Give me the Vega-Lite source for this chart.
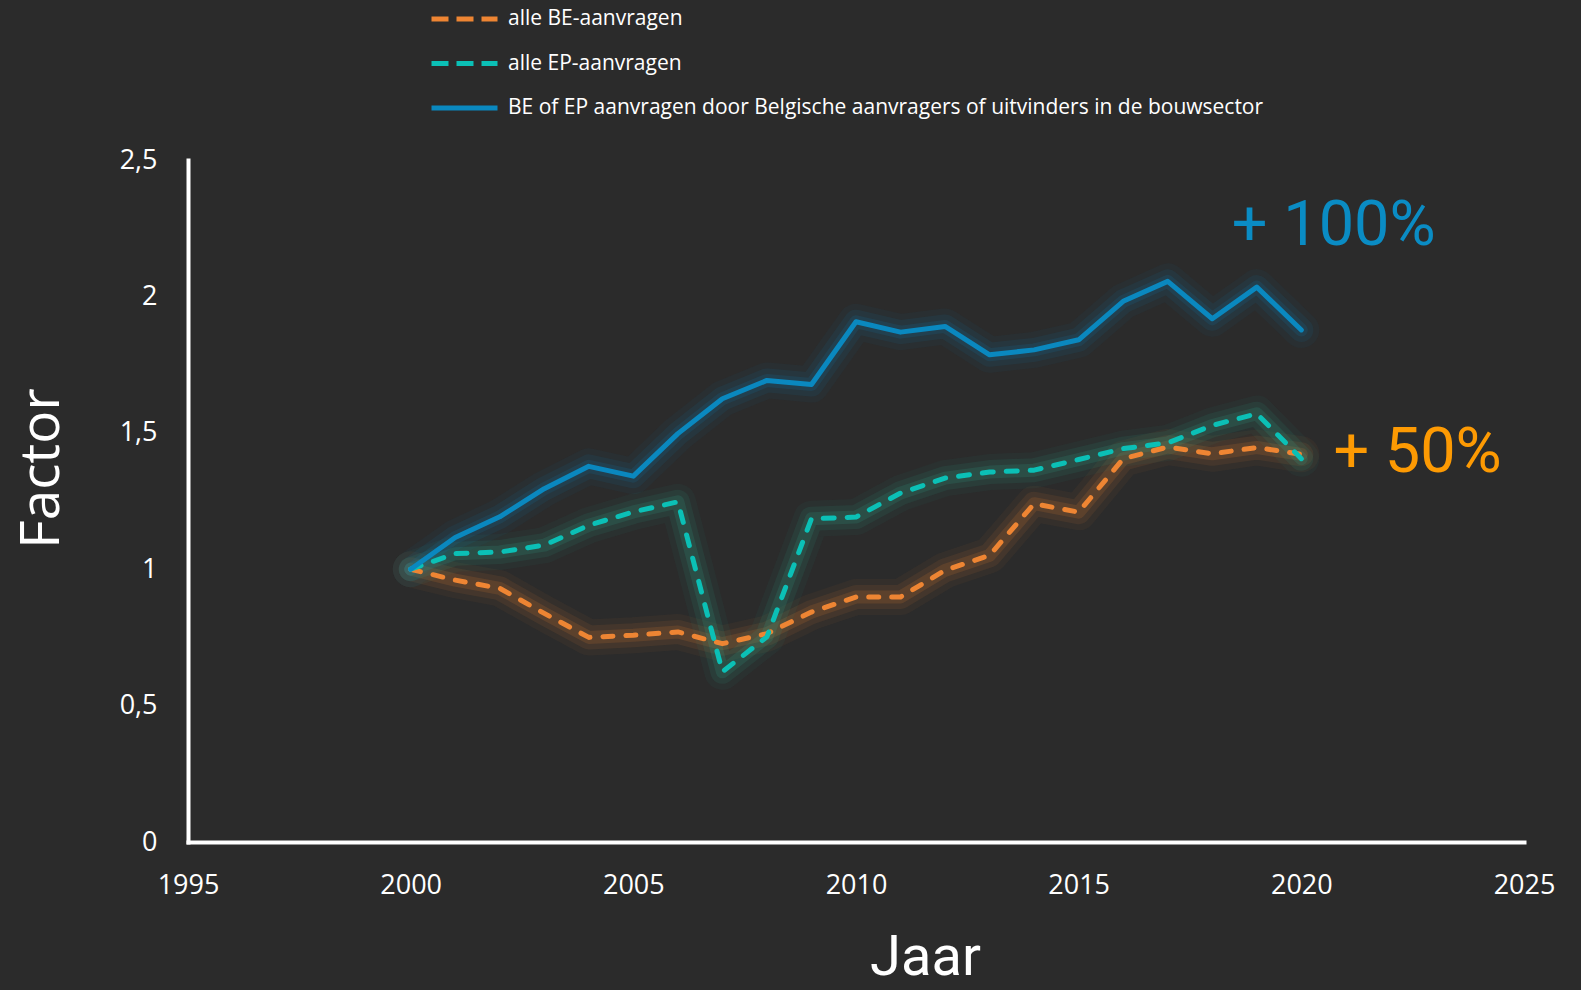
{
  "$schema": "https://vega.github.io/schema/vega-lite/v6.json",
  "width": 1336,
  "height": 682,
  "autosize": {"type": "none"},
  "padding": {"left": 188, "top": 160, "right": 57, "bottom": 148},
  "background": "#2b2b2b",
  "config": {"view": {"stroke": null}, "font": "Open Sans"},
  "datasets": {
    "reeksen": [
      {"Jaar": 2000, "reeks": "BE", "Factor": 1.0},
      {"Jaar": 2001, "reeks": "BE", "Factor": 0.96},
      {"Jaar": 2002, "reeks": "BE", "Factor": 0.93},
      {"Jaar": 2003, "reeks": "BE", "Factor": 0.838},
      {"Jaar": 2004, "reeks": "BE", "Factor": 0.75},
      {"Jaar": 2005, "reeks": "BE", "Factor": 0.758},
      {"Jaar": 2006, "reeks": "BE", "Factor": 0.77},
      {"Jaar": 2007, "reeks": "BE", "Factor": 0.727},
      {"Jaar": 2008, "reeks": "BE", "Factor": 0.764},
      {"Jaar": 2009, "reeks": "BE", "Factor": 0.843},
      {"Jaar": 2010, "reeks": "BE", "Factor": 0.898},
      {"Jaar": 2011, "reeks": "BE", "Factor": 0.898},
      {"Jaar": 2012, "reeks": "BE", "Factor": 0.996},
      {"Jaar": 2013, "reeks": "BE", "Factor": 1.051},
      {"Jaar": 2014, "reeks": "BE", "Factor": 1.24},
      {"Jaar": 2015, "reeks": "BE", "Factor": 1.209},
      {"Jaar": 2016, "reeks": "BE", "Factor": 1.405},
      {"Jaar": 2017, "reeks": "BE", "Factor": 1.448},
      {"Jaar": 2018, "reeks": "BE", "Factor": 1.423},
      {"Jaar": 2019, "reeks": "BE", "Factor": 1.446},
      {"Jaar": 2020, "reeks": "BE", "Factor": 1.421},
      {"Jaar": 2000, "reeks": "EP", "Factor": 1.0},
      {"Jaar": 2001, "reeks": "EP", "Factor": 1.057},
      {"Jaar": 2002, "reeks": "EP", "Factor": 1.063},
      {"Jaar": 2003, "reeks": "EP", "Factor": 1.088},
      {"Jaar": 2004, "reeks": "EP", "Factor": 1.161},
      {"Jaar": 2005, "reeks": "EP", "Factor": 1.21},
      {"Jaar": 2006, "reeks": "EP", "Factor": 1.247},
      {"Jaar": 2007, "reeks": "EP", "Factor": 0.624},
      {"Jaar": 2008, "reeks": "EP", "Factor": 0.752},
      {"Jaar": 2009, "reeks": "EP", "Factor": 1.185},
      {"Jaar": 2010, "reeks": "EP", "Factor": 1.191},
      {"Jaar": 2011, "reeks": "EP", "Factor": 1.279},
      {"Jaar": 2012, "reeks": "EP", "Factor": 1.334},
      {"Jaar": 2013, "reeks": "EP", "Factor": 1.356},
      {"Jaar": 2014, "reeks": "EP", "Factor": 1.363},
      {"Jaar": 2015, "reeks": "EP", "Factor": 1.402},
      {"Jaar": 2016, "reeks": "EP", "Factor": 1.442},
      {"Jaar": 2017, "reeks": "EP", "Factor": 1.463},
      {"Jaar": 2018, "reeks": "EP", "Factor": 1.527},
      {"Jaar": 2019, "reeks": "EP", "Factor": 1.57},
      {"Jaar": 2020, "reeks": "EP", "Factor": 1.405},
      {"Jaar": 2000, "reeks": "bouw", "Factor": 1.0},
      {"Jaar": 2001, "reeks": "bouw", "Factor": 1.116},
      {"Jaar": 2002, "reeks": "bouw", "Factor": 1.192},
      {"Jaar": 2003, "reeks": "bouw", "Factor": 1.295},
      {"Jaar": 2004, "reeks": "bouw", "Factor": 1.377},
      {"Jaar": 2005, "reeks": "bouw", "Factor": 1.341},
      {"Jaar": 2006, "reeks": "bouw", "Factor": 1.497},
      {"Jaar": 2007, "reeks": "bouw", "Factor": 1.625},
      {"Jaar": 2008, "reeks": "bouw", "Factor": 1.692},
      {"Jaar": 2009, "reeks": "bouw", "Factor": 1.677},
      {"Jaar": 2010, "reeks": "bouw", "Factor": 1.907},
      {"Jaar": 2011, "reeks": "bouw", "Factor": 1.869},
      {"Jaar": 2012, "reeks": "bouw", "Factor": 1.89},
      {"Jaar": 2013, "reeks": "bouw", "Factor": 1.786},
      {"Jaar": 2014, "reeks": "bouw", "Factor": 1.804},
      {"Jaar": 2015, "reeks": "bouw", "Factor": 1.841},
      {"Jaar": 2016, "reeks": "bouw", "Factor": 1.982},
      {"Jaar": 2017, "reeks": "bouw", "Factor": 2.055},
      {"Jaar": 2018, "reeks": "bouw", "Factor": 1.918},
      {"Jaar": 2019, "reeks": "bouw", "Factor": 2.034},
      {"Jaar": 2020, "reeks": "bouw", "Factor": 1.877}
    ],
    "notities": [
      {"Jaar": 2018.44, "Factor": 2.188, "tekst": "+ 100%", "soort": "bouw"},
      {"Jaar": 2020.72, "Factor": 1.356, "tekst": "+ 50%", "soort": "BE"}
    ]
  },
  "data": {"name": "reeksen"},
  "encoding": {
    "x": {
      "field": "Jaar",
      "type": "quantitative",
      "scale": {"domain": [1995, 2025], "nice": false, "zero": false},
      "axis": {
        "values": [1995, 2000, 2005, 2010, 2015, 2020, 2025],
        "format": "d",
        "title": "Jaar",
        "grid": false,
        "ticks": false,
        "tickSize": 0,
        "domainColor": "#ffffff",
        "domainWidth": 4,
        "domainCap": "square",
        "labelColor": "#ffffff",
        "labelFont": "Open Sans",
        "labelFontSize": 27,
        "labelPadding": 30,
        "labelBaseline": "top",
        "labelFlush": false,
        "labelOverlap": false,
        "titleFont": "Roboto",
        "titleFontSize": 56,
        "titleFontWeight": "normal",
        "titleColor": "#ffffff",
        "titleX": 737,
        "titleY": 132,
        "titleAlign": "center",
        "titleBaseline": "alphabetic"
      }
    },
    "y": {
      "field": "Factor",
      "type": "quantitative",
      "scale": {"domain": [0, 2.5], "nice": false},
      "axis": {
        "values": [0, 0.5, 1, 1.5, 2, 2.5],
        "labelExpr": "replace(toString(datum.value), '.', ',')",
        "title": "Factor",
        "grid": false,
        "ticks": false,
        "tickSize": 0,
        "domainColor": "#ffffff",
        "domainWidth": 4,
        "domainCap": "square",
        "labelColor": "#ffffff",
        "labelFont": "Open Sans",
        "labelFontSize": 27,
        "labelPadding": 31,
        "titleFont": "Open Sans",
        "titleFontSize": 55,
        "titleFontWeight": "normal",
        "titleColor": "#ffffff",
        "titleAngle": -90,
        "titleX": -130,
        "titleY": 308,
        "titleAlign": "center",
        "titleBaseline": "alphabetic"
      }
    }
  },
  "layer": [
    {"transform": [{"filter": "datum.reeks === 'BE'"}], "mark": {"type": "line", "color": "#ee8533", "strokeWidth": 36, "opacity": 0.05, "strokeCap": "round", "strokeJoin": "round"}},
    {"transform": [{"filter": "datum.reeks === 'BE'"}], "mark": {"type": "line", "color": "#ee8533", "strokeWidth": 24, "opacity": 0.09, "strokeCap": "round", "strokeJoin": "round"}},
    {"transform": [{"filter": "datum.reeks === 'BE'"}], "mark": {"type": "line", "color": "#ee8533", "strokeWidth": 13, "opacity": 0.14, "strokeCap": "round", "strokeJoin": "round"}},
    {"transform": [{"filter": "datum.reeks === 'EP'"}], "mark": {"type": "line", "color": "#2fb89a", "strokeWidth": 36, "opacity": 0.05, "strokeCap": "round", "strokeJoin": "round"}},
    {"transform": [{"filter": "datum.reeks === 'EP'"}], "mark": {"type": "line", "color": "#2fb89a", "strokeWidth": 24, "opacity": 0.09, "strokeCap": "round", "strokeJoin": "round"}},
    {"transform": [{"filter": "datum.reeks === 'EP'"}], "mark": {"type": "line", "color": "#2fb89a", "strokeWidth": 13, "opacity": 0.14, "strokeCap": "round", "strokeJoin": "round"}},
    {"transform": [{"filter": "datum.reeks === 'bouw'"}], "mark": {"type": "line", "color": "#1479a8", "strokeWidth": 36, "opacity": 0.06, "strokeCap": "round", "strokeJoin": "round"}},
    {"transform": [{"filter": "datum.reeks === 'bouw'"}], "mark": {"type": "line", "color": "#1479a8", "strokeWidth": 24, "opacity": 0.11, "strokeCap": "round", "strokeJoin": "round"}},
    {"transform": [{"filter": "datum.reeks === 'bouw'"}], "mark": {"type": "line", "color": "#1479a8", "strokeWidth": 13, "opacity": 0.16, "strokeCap": "round", "strokeJoin": "round"}},
    {
      "transform": [{"filter": "datum.reeks === 'BE'"}],
      "mark": {"type": "line", "strokeWidth": 5, "strokeDash": [10, 13], "strokeCap": "round", "strokeJoin": "round"},
      "encoding": {
        "color": {
          "datum": "alle BE-aanvragen",
          "type": "nominal",
          "scale": {"range": ["#ee8533"]},
          "legend": {"orient": "none", "legendX": 241, "legendY": -176.5, "title": null, "symbolType": "stroke", "symbolSize": 4356, "symbolStrokeWidth": 5, "symbolDash": [17, 8], "labelColor": "#ffffff", "labelFont": "Open Sans", "labelFontSize": 21, "labelOffset": 8, "padding": 0, "labelLimit": 2000}
        }
      }
    },
    {
      "transform": [{"filter": "datum.reeks === 'EP'"}],
      "mark": {"type": "line", "strokeWidth": 5, "strokeDash": [11, 13], "strokeCap": "round", "strokeJoin": "round"},
      "encoding": {
        "color": {
          "datum": "alle EP-aanvragen",
          "type": "nominal",
          "scale": {"range": ["#0bc0b6"]},
          "legend": {"orient": "none", "legendX": 241, "legendY": -132, "title": null, "symbolType": "stroke", "symbolSize": 4356, "symbolStrokeWidth": 5, "symbolDash": [17, 8], "labelColor": "#ffffff", "labelFont": "Open Sans", "labelFontSize": 21, "labelOffset": 8, "padding": 0, "labelLimit": 2000}
        }
      }
    },
    {
      "transform": [{"filter": "datum.reeks === 'bouw'"}],
      "mark": {"type": "line", "strokeWidth": 5, "strokeCap": "round", "strokeJoin": "round"},
      "encoding": {
        "color": {
          "datum": "BE of EP aanvragen door Belgische aanvragers of uitvinders  in de bouwsector",
          "type": "nominal",
          "scale": {"range": ["#0a88bf"]},
          "legend": {"orient": "none", "legendX": 241, "legendY": -87.5, "title": null, "symbolType": "stroke", "symbolSize": 4356, "symbolStrokeWidth": 5, "labelColor": "#ffffff", "labelFont": "Open Sans", "labelFontSize": 21, "labelOffset": 8, "padding": 0, "labelLimit": 2000}
        }
      }
    },
    {
      "data": {"name": "notities"},
      "transform": [{"filter": "datum.soort === 'bouw'"}],
      "mark": {"type": "text", "align": "left", "baseline": "alphabetic", "font": "Roboto", "fontSize": 63, "color": "#0a8cc4"},
      "encoding": {"text": {"field": "tekst"}}
    },
    {
      "data": {"name": "notities"},
      "transform": [{"filter": "datum.soort === 'BE'"}],
      "mark": {"type": "text", "align": "left", "baseline": "alphabetic", "font": "Roboto", "fontSize": 63, "color": "#fd9a03"},
      "encoding": {"text": {"field": "tekst"}}
    }
  ],
  "resolve": {"scale": {"color": "independent"}, "legend": {"color": "independent"}}
}
